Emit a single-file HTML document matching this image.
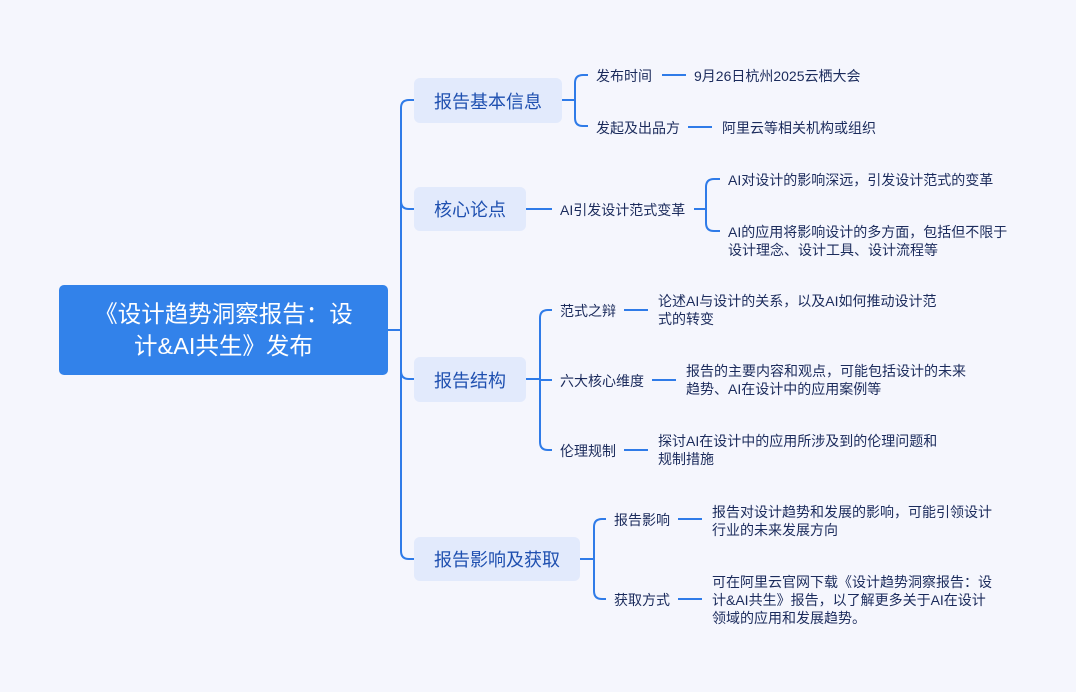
<!DOCTYPE html>
<html><head><meta charset="utf-8"><style>
body{margin:0;width:1076px;height:692px;background:#f5f6fd;position:relative;overflow:hidden;font-family:"Liberation Sans","Noto Sans CJK SC",sans-serif}
.t{position:absolute;font-size:14px;color:#1b2b5c;line-height:18px;white-space:nowrap}
.b{position:absolute;background:#e2eafc;border-radius:6px;color:#1f50b0;font-size:18px;display:flex;align-items:center;justify-content:center}
svg{position:absolute;left:0;top:0}
</style></head><body>
<svg width="1076" height="692" fill="none" stroke="#2f7be8" stroke-width="2">
<path d="M388 330H401M401 108V551M401 108Q401 100 409 100H414M401 201Q401 209 409 209H414M401 371Q401 379 409 379H414M401 551Q401 559 409 559H414"/>
<path d="M562 100H575M575 83Q575 75 583 75H588M575 83V118Q575 126 583 126H588M662 75H686M688 127H712"/>
<path d="M526 209H552M694 209H706M706 187Q706 179 714 179H720M706 187V223Q706 231 714 231H720"/>
<path d="M526 379H540M540 318Q540 310 548 310H552M540 318V442Q540 450 548 450H552M540 380H552M624 310H648M652 380H676M624 450H648"/>
<path d="M580 559H594M594 527Q594 519 602 519H606M594 527V591Q594 599 602 599H606M678 519H702M678 599H702"/>
</svg>
<div style="position:absolute;left:59px;top:285px;width:329px;height:90px;background:#3282ea;border-radius:5px;color:#fff;font-size:23.5px;line-height:32px;text-align:center;display:flex;align-items:center;justify-content:center"><div>《设计趋势洞察报告：设<br>计&amp;AI共生》发布</div></div>
<div class="b" style="left:414px;top:78px;width:148px;height:45px">报告基本信息</div>
<div class="b" style="left:414px;top:187px;width:112px;height:44px">核心论点</div>
<div class="b" style="left:414px;top:357px;width:112px;height:45px">报告结构</div>
<div class="b" style="left:414px;top:537px;width:166px;height:44px">报告影响及获取</div>
<div class="t" style="left:596px;top:67px">发布时间</div>
<div class="t" style="left:694px;top:67px">9月26日杭州2025云栖大会</div>
<div class="t" style="left:596px;top:119px">发起及出品方</div>
<div class="t" style="left:722px;top:119px">阿里云等相关机构或组织</div>
<div class="t" style="left:560px;top:201px">AI引发设计范式变革</div>
<div class="t" style="left:728px;top:171px">AI对设计的影响深远，引发设计范式的变革</div>
<div class="t" style="left:728px;top:223px">AI的应用将影响设计的多方面，包括但不限于<br>设计理念、设计工具、设计流程等</div>
<div class="t" style="left:560px;top:302px">范式之辩</div>
<div class="t" style="left:658px;top:292px">论述AI与设计的关系，以及AI如何推动设计范<br>式的转变</div>
<div class="t" style="left:560px;top:372px">六大核心维度</div>
<div class="t" style="left:686px;top:362px">报告的主要内容和观点，可能包括设计的未来<br>趋势、AI在设计中的应用案例等</div>
<div class="t" style="left:560px;top:442px">伦理规制</div>
<div class="t" style="left:658px;top:432px">探讨AI在设计中的应用所涉及到的伦理问题和<br>规制措施</div>
<div class="t" style="left:614px;top:511px">报告影响</div>
<div class="t" style="left:712px;top:503px">报告对设计趋势和发展的影响，可能引领设计<br>行业的未来发展方向</div>
<div class="t" style="left:614px;top:591px">获取方式</div>
<div class="t" style="left:712px;top:573px">可在阿里云官网下载《设计趋势洞察报告：设<br>计&amp;AI共生》报告，以了解更多关于AI在设计<br>领域的应用和发展趋势。</div>
</body></html>
